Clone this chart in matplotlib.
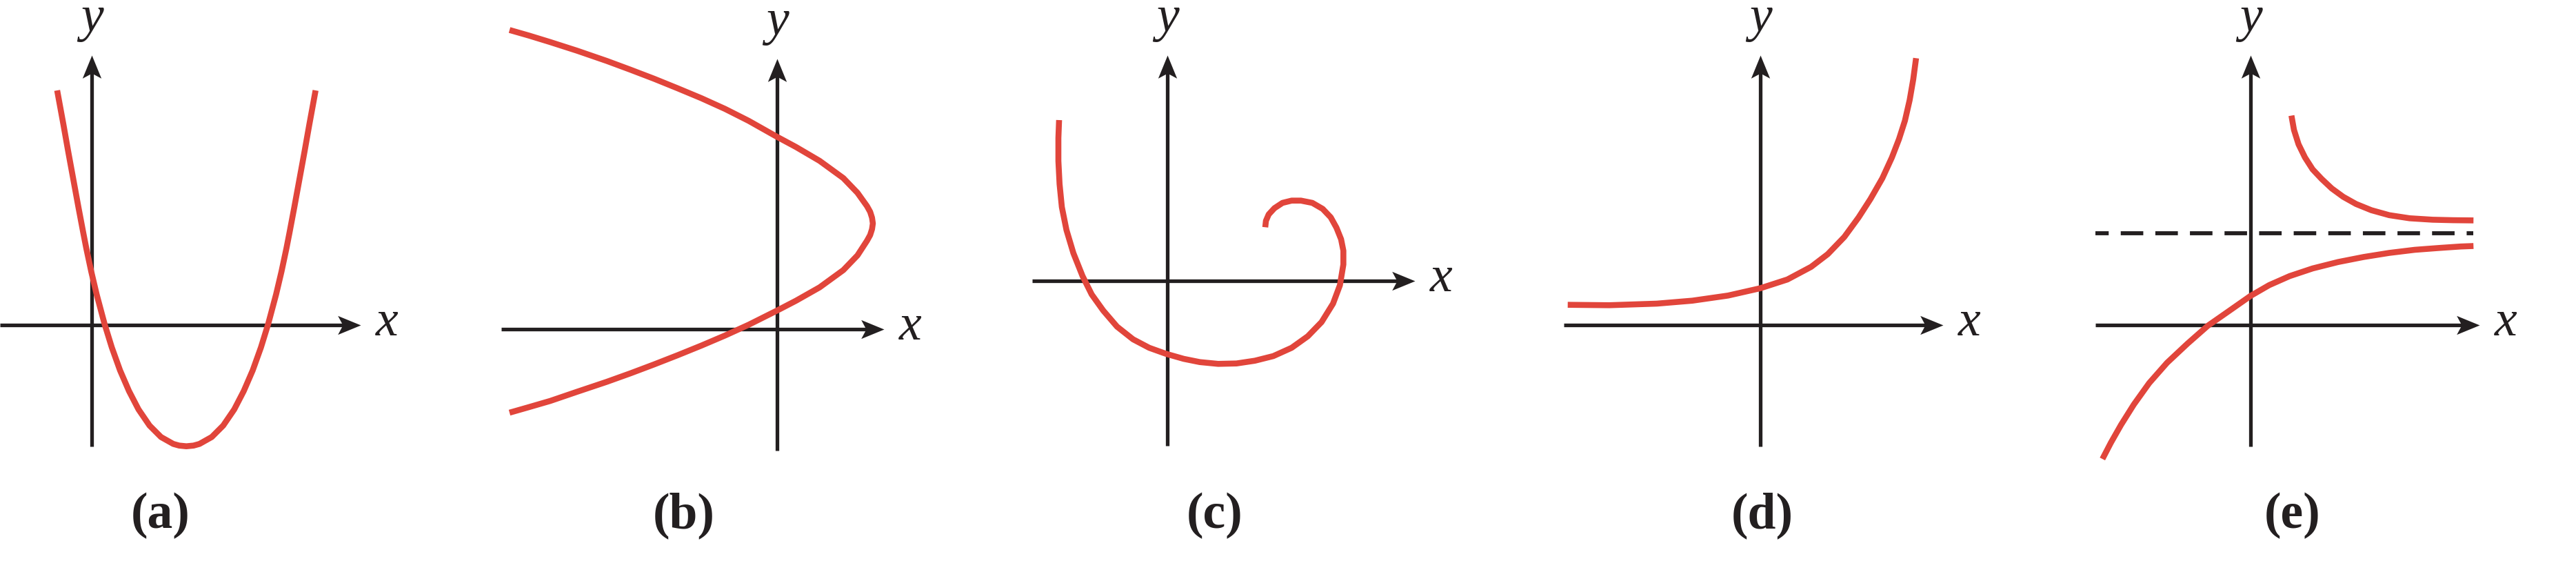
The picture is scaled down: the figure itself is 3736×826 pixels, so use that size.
import matplotlib
matplotlib.use("Agg")
import matplotlib.pyplot as plt
from matplotlib.path import Path

# --- curve data (1 unit = 100 px, origin at each panel's axis crossing) ---
a_x = [-0.501, -0.411, -0.340, -0.261, -0.193, -0.123, -0.078, -0.007, 0.072, 0.186, 0.291,
       0.411, 0.541, 0.679, 0.839, 1.005, 1.183, 1.269, 1.373, 1.477, 1.563, 1.741, 1.907,
       2.067, 2.205, 2.335, 2.455, 2.560, 2.674, 2.753, 2.824, 2.869, 2.939, 3.007, 3.086,
       3.157, 3.247]
a_y = [3.400, 2.910, 2.510, 2.080, 1.710, 1.340, 1.110, 0.777, 0.443, 0.017, -0.323,
       -0.657, -0.957, -1.223, -1.457, -1.623, -1.723, -1.747, -1.757, -1.747, -1.723, -1.623,
       -1.457, -1.223, -0.957, -0.657, -0.323, 0.017, 0.443, 0.777, 1.110, 1.340, 1.710,
       2.080, 2.510, 2.910, 3.400]

b_x = [-3.880, -3.600, -3.290, -2.900, -2.470, -2.127, -1.784, -1.441, -1.098, -0.755, -0.412,
       0.000, 0.274, 0.617, 0.961, 1.166, 1.304, 1.350, 1.377, 1.389, 1.377, 1.350, 1.304,
       1.166, 0.961, 0.617, 0.274, 0.000, -0.412, -0.755, -1.098, -1.441, -1.784, -2.127,
       -2.470, -2.900, -3.290, -3.600, -3.880]
b_y = [4.335, 4.255, 4.160, 4.035, 3.887, 3.760, 3.629, 3.490, 3.347, 3.192, 3.019,
       2.787, 2.640, 2.439, 2.189, 1.976, 1.783, 1.700, 1.615, 1.532, 1.449, 1.364, 1.281,
       1.069, 0.856, 0.606, 0.412, 0.270, 0.064, -0.092, -0.238, -0.377, -0.511, -0.640,
       -0.763, -0.907, -1.040, -1.130, -1.210]

c_x = [-1.570, -1.580, -1.580, -1.563, -1.530, -1.463, -1.363, -1.230, -1.097, -0.930,
       -0.730, -0.497, -0.263, -0.020, 0.237, 0.470, 0.737, 1.003, 1.270, 1.537, 1.803,
       2.037, 2.237, 2.403, 2.503, 2.553, 2.553, 2.520, 2.453, 2.370, 2.253, 2.103, 1.937,
       1.803, 1.670, 1.553, 1.470, 1.430, 1.420]
c_y = [2.330, 2.070, 1.737, 1.403, 1.070, 0.737, 0.403, 0.070, -0.197, -0.430,
       -0.663, -0.847, -0.970, -1.057, -1.130, -1.177, -1.203, -1.197, -1.157, -1.090, -0.970,
       -0.803, -0.597, -0.330, -0.063, 0.237, 0.437, 0.603, 0.770, 0.920, 1.043, 1.130, 1.163,
       1.163, 1.130, 1.053, 0.963, 0.870, 0.777]

d_x = [-2.793, -2.190, -1.501, -0.985, -0.468, 0.000, 0.393, 0.737, 0.978, 1.219, 1.426,
       1.598, 1.770, 1.908, 2.011, 2.097, 2.166, 2.218, 2.259]
d_y = [0.293, 0.287, 0.310, 0.353, 0.427, 0.533, 0.660, 0.843, 1.027, 1.277, 1.560,
       1.827, 2.127, 2.427, 2.693, 2.960, 3.260, 3.560, 3.867]

e_upper_x = [0.593, 0.630, 0.696, 0.789, 0.900, 1.030, 1.178, 1.344, 1.530, 1.752, 2.011,
             2.307, 2.641, 2.937, 3.233]
e_upper_y = [3.035, 2.827, 2.619, 2.429, 2.256, 2.118, 1.979, 1.858, 1.754, 1.664, 1.592,
             1.547, 1.526, 1.519, 1.516]
e_lower_x = [-2.148, -2.026, -1.878, -1.693, -1.470, -1.211, -0.915, -0.619, -0.322, 0.000,
             0.270, 0.567, 0.900, 1.270, 1.641, 2.011, 2.381, 2.752, 3.048, 3.233]
e_lower_y = [-1.941, -1.706, -1.446, -1.152, -0.841, -0.547, -0.270, -0.010, 0.197, 0.422,
             0.578, 0.709, 0.820, 0.913, 0.986, 1.045, 1.090, 1.118, 1.138, 1.145]
e_asymptote_y = 1.33

panel_labels = ["(a)", "(b)", "(c)", "(d)", "(e)"]
x_axis_spans = [(-1.33, 3.90), (-4.00, 1.55), (-1.96, 3.59), (-2.85, 2.65), (-2.25, 3.32)]
y_axis_spans = [(-1.76, 3.91), (-1.76, 3.92), (-2.39, 3.27), (-1.76, 3.91), (-1.76, 3.91)]
label_x = [1.00, -1.35, 0.69, 0.03, 0.61]

# --- layout (pixels) ---
W, H = 3736, 826
bounds = [(0, 640), (640, 1400), (1400, 2200), (2200, 2950), (2950, 3736)]
origins = [(133, 471), (1127, 477), (1693, 407), (2553, 471), (3264, 471)]
LABEL_BASE_PX = 765

RED = "#E1453B"
INK = "#231F20"
SERIF = ["Liberation Serif", "DejaVu Serif"]
AXIS_LW = 3.8
CURVE_LW = 6.2

HEAD_RIGHT = Path([(0, 0), (-1, 0.41), (-0.78, 0), (-1, -0.41), (0, 0)],
                  [Path.MOVETO, Path.LINETO, Path.LINETO, Path.LINETO, Path.CLOSEPOLY])
HEAD_UP = Path([(0, 0), (0.41, -1), (0, -0.78), (-0.41, -1), (0, 0)],
               [Path.MOVETO, Path.LINETO, Path.LINETO, Path.LINETO, Path.CLOSEPOLY])

fig = plt.figure(figsize=(W / 100, H / 100), dpi=100)
fig.patch.set_facecolor("white")


def draw_panel(i, curves):
    left, right = bounds[i]
    ox, oy = origins[i]
    ax = fig.add_axes([left / W, 0, (right - left) / W, 1])
    ax.set_xlim((left - ox) / 100, (right - ox) / 100)
    ax.set_ylim((oy - H) / 100, oy / 100)
    ax.axis("off")

    xs, ys = x_axis_spans[i], y_axis_spans[i]
    ax.plot([xs[0], xs[1] - 0.1], [0, 0], color=INK, lw=AXIS_LW, solid_capstyle="butt", zorder=2)
    ax.plot(xs[1], 0, marker=HEAD_RIGHT, ms=48, color=INK, mew=0, zorder=2)
    ax.plot([0, 0], [ys[0], ys[1] - 0.1], color=INK, lw=AXIS_LW, solid_capstyle="butt", zorder=2)
    ax.plot(0, ys[1], marker=HEAD_UP, ms=48, color=INK, mew=0, zorder=2)

    ax.text(xs[1] + 0.38, -0.15, "x", family=SERIF, style="italic", size=53,
            color=INK, ha="center", va="baseline")
    ax.text(0, ys[1] + 0.35, "y", family=SERIF, style="italic", size=53,
            color=INK, ha="center", va="baseline")
    ax.text(label_x[i], (oy - LABEL_BASE_PX) / 100, panel_labels[i], family=SERIF,
            weight="bold", size=53, color=INK, ha="center", va="baseline")

    for cx, cy in curves:
        ax.plot(cx, cy, color=RED, lw=CURVE_LW, solid_capstyle="butt",
                solid_joinstyle="round", zorder=3)
    return ax


draw_panel(0, [(a_x, a_y)])
draw_panel(1, [(b_x, b_y)])
draw_panel(2, [(c_x, c_y)])
draw_panel(3, [(d_x, d_y)])
ax_e = draw_panel(4, [(e_upper_x, e_upper_y), (e_lower_x, e_lower_y)])
ax_e.plot([x_axis_spans[4][0], e_upper_x[-1]], [e_asymptote_y, e_asymptote_y],
          color=INK, lw=4.2, linestyle=(2.3, (5.6, 3.0)), zorder=2)

fig.savefig("out.png", dpi=100, facecolor="white")
